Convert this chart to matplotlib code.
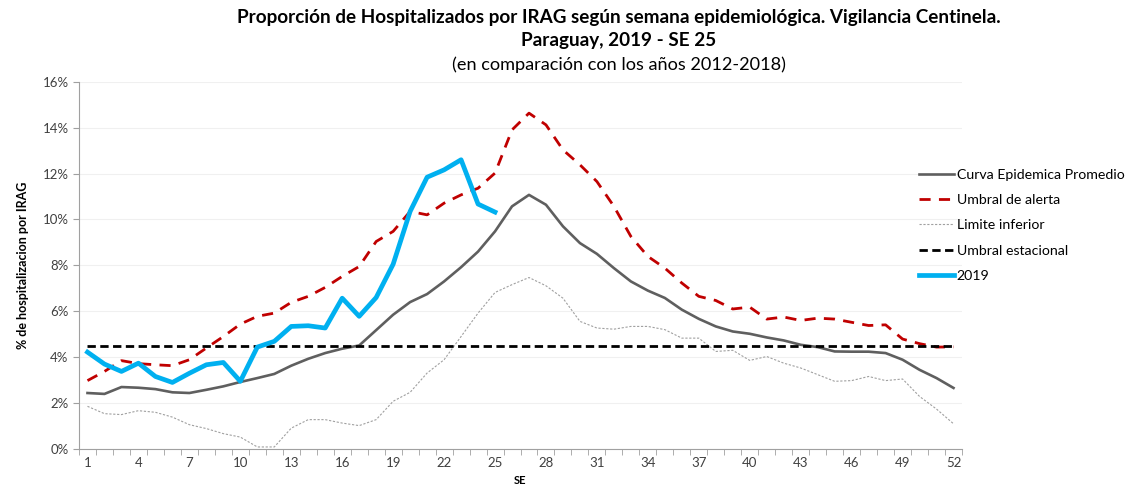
import numpy as np
import matplotlib
matplotlib.use("Agg")
import matplotlib.pyplot as plt
from matplotlib.ticker import FixedLocator, FuncFormatter

plt.rcParams['font.family'] = ['Lato', 'DejaVu Sans']

# semanas epidemiologicas 1..52
semanas = np.arange(1, 53)

# valores en %
curva_promedio = [2.44, 2.40, 2.70, 2.67, 2.61, 2.47, 2.44, 2.58, 2.73, 2.92,
                  3.09, 3.27, 3.63, 3.93, 4.18, 4.37, 4.51, 5.18, 5.85, 6.40,
                  6.75, 7.30, 7.92, 8.60, 9.48, 10.57, 11.07, 10.64, 9.70, 8.97,
                  8.50, 7.88, 7.30, 6.90, 6.58, 6.07, 5.67, 5.34, 5.12, 5.02,
                  4.86, 4.73, 4.54, 4.44, 4.25, 4.24, 4.24, 4.18, 3.89, 3.45,
                  3.09, 2.66]
umbral_alerta = [2.98, 3.38, 3.85, 3.72, 3.67, 3.63, 3.89, 4.40, 4.90, 5.44,
                 5.78, 5.92, 6.39, 6.65, 7.04, 7.52, 7.95, 9.04, 9.48, 10.35,
                 10.20, 10.71, 11.07, 11.36, 12.02, 13.90, 14.63, 14.12, 13.03, 12.38,
                 11.65, 10.57, 9.26, 8.39, 7.88, 7.23, 6.65, 6.47, 6.10, 6.18,
                 5.66, 5.75, 5.60, 5.70, 5.66, 5.52, 5.38, 5.41, 4.79, 4.59,
                 4.44, 4.45]
limite_inferior = [1.86, 1.54, 1.50, 1.67, 1.60, 1.39, 1.06, 0.89, 0.67, 0.52,
                   0.09, 0.09, 0.91, 1.28, 1.28, 1.13, 1.02, 1.28, 2.08, 2.47,
                   3.31, 3.89, 4.90, 5.92, 6.82, 7.16, 7.47, 7.11, 6.57, 5.56,
                   5.27, 5.22, 5.34, 5.34, 5.20, 4.83, 4.83, 4.25, 4.30, 3.86,
                   4.03, 3.74, 3.53, 3.24, 2.95, 2.98, 3.16, 2.98, 3.05, 2.29,
                   1.74, 1.10]
umbral_estacional = [4.5] * 52
# 2019 hasta SE 25
semanas_2019 = np.arange(1, 26)
valores_2019 = [4.22, 3.70, 3.38, 3.74, 3.16, 2.90, 3.30, 3.67, 3.77, 2.95,
                4.44, 4.69, 5.34, 5.37, 5.27, 6.57, 5.78, 6.60, 8.05, 10.35,
                11.84, 12.16, 12.60, 10.67, 10.32]

fig = plt.figure(figsize=(11.27, 4.93), dpi=100)
ax = fig.add_axes([0.0701, 0.0892, 0.7835, 0.7451])

ax.plot(semanas, curva_promedio, color='#5f5f5f', lw=1.9, label='Curva Epidemica Promedio')
ax.plot(semanas, umbral_alerta, color='#c00000', lw=2.0, dashes=(4, 3), label='Umbral de alerta')
ax.plot(semanas, limite_inferior, color='#a0a0a0', lw=0.8, dashes=(2, 1.5), label='Limite inferior')
ax.plot(semanas, umbral_estacional, color='black', lw=2.0, dashes=(3, 1.6), label='Umbral estacional')
ax.plot(semanas_2019, valores_2019, color='#00b0f0', lw=3.4, label='2019')

ax.set_xlim(0.5, 52.5)
ax.set_ylim(0, 16)
ax.set_yticks(np.arange(0, 17, 2))
ax.yaxis.set_major_formatter(FuncFormatter(lambda v, p: '%d%%' % v))
ax.set_xticks(np.arange(1, 53, 3))
ax.xaxis.set_minor_locator(FixedLocator(np.arange(0.5, 53, 1)))
ax.tick_params(axis='x', which='major', length=0, labelsize=9.5, colors='#404040', pad=6)
ax.tick_params(axis='x', which='minor', length=4, color='#a0a0a0')
ax.tick_params(axis='y', length=4, color='#a0a0a0', labelsize=9.5, labelcolor='#404040')
ax.grid(axis='y', color='#f0f0f0', lw=0.8)
ax.set_axisbelow(True)
for s in ['top', 'right']:
    ax.spines[s].set_visible(False)
for s in ['left', 'bottom']:
    ax.spines[s].set_color('#a0a0a0')

ax.set_ylabel('% de hospitalizacion por IRAG', fontsize=9, fontweight='bold', labelpad=10)
ax.set_xlabel('SE', fontsize=8, fontweight='bold', labelpad=4)

cx = 0.549
fig.text(cx, 0.965, 'Proporción de Hospitalizados por IRAG según semana epidemiológica. Vigilancia Centinela.',
         ha='center', va='center', fontsize=13.6, fontweight='bold')
fig.text(cx, 0.917, 'Paraguay, 2019 - SE 25', ha='center', va='center', fontsize=13.6, fontweight='bold')
fig.text(cx, 0.868, '(en comparación con los años 2012-2018)', ha='center', va='center', fontsize=13.1)

leg = fig.legend(loc='upper left', bbox_to_anchor=(0.8155, 0.657), frameon=False, fontsize=10.2,
                 handlelength=2.45, handletextpad=0.2, labelspacing=0.93,
                 borderaxespad=0, borderpad=0)

fig.savefig('out.png', dpi=100)
